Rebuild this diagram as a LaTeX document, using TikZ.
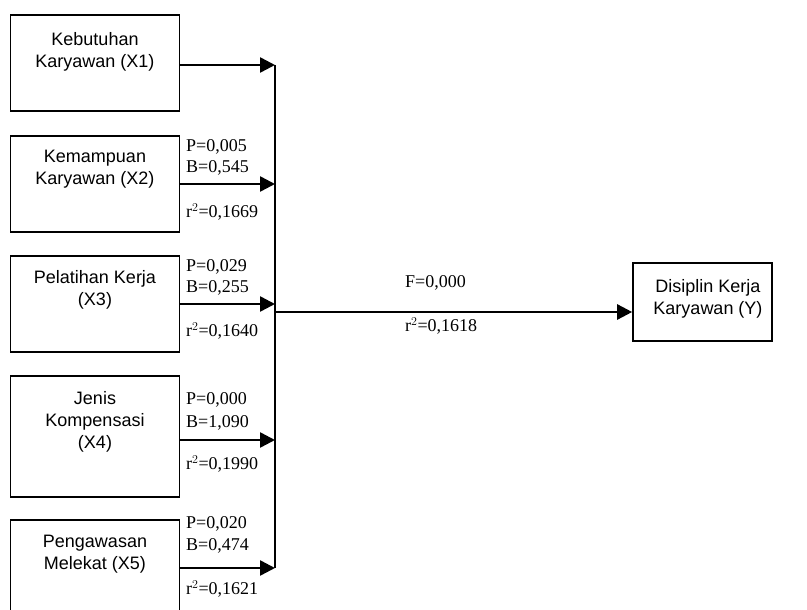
\documentclass[tikz,border=0pt]{standalone}
\usepackage{fontspec}
\setmainfont{Liberation Serif}
\newfontfamily\arialf{Liberation Sans}
\usetikzlibrary{arrows.meta}
\begin{document}
\begin{tikzpicture}[x=1pt,y=-1pt,
  boxst/.style={draw,line width=1.6pt,rectangle,inner sep=0pt},
  btext/.style={font=\arialf\fontsize{18}{22}\selectfont,align=center,inner sep=0pt},
  lab/.style={font=\fontsize{18}{21}\selectfont,anchor=west,inner sep=0pt},
  arr/.style={line width=2.5pt,-{Triangle[length=15pt,width=15pt]}},
  bus/.style={line width=1.8pt}]
\useasboundingbox (0,0) rectangle (807,610);
\clip (0,0) rectangle (807,610);
% boxes
\node[boxst,minimum width=169pt,minimum height=96pt] (b1) at (95,63) {};
\node[boxst,minimum width=169pt,minimum height=96pt] (b2) at (95,184) {};
\node[boxst,minimum width=169pt,minimum height=96pt] (b3) at (95,304) {};
\node[boxst,minimum width=169pt,minimum height=121pt] (b4) at (95,436.5) {};
\node[boxst,minimum width=169pt,minimum height=110pt] (b5) at (95,575) {};
\node[boxst,minimum width=139pt,minimum height=78pt] (y) at (702.5,302) {};
% box texts
\node[btext] (t1) at (95,52) {Kebutuhan\\Karyawan (X1)};
\node[btext] (t2) at (95,169.5) {Kemampuan\\Karyawan (X2)};
\node[btext] (t3) at (95,290) {Pelatihan Kerja\\(X3)};
\node[btext] (t4) at (95,421.5) {Jenis\\Kompensasi\\(X4)};
\node[btext] (t5) at (95,554.5) {Pengawasan\\Melekat (X5)};
\node[btext] (ty) at (708,299) {Disiplin Kerja\\Karyawan (Y)};
% junctions on the bus
\coordinate (j1) at (275,65);
\coordinate (j2) at (275,184);
\coordinate (j3) at (275,304);
\coordinate (j4) at (275,440);
\coordinate (j5) at (275,568);
\coordinate (jm) at (275,312);
\draw[bus] (j1) -- (j5);
\draw[arr] (b1.east |- j1) -- (j1);
\draw[arr] (b2.east |- j2) -- (j2);
\draw[arr] (b3.east |- j3) -- (j3);
\draw[arr] (b4.east |- j4) -- (j4);
\draw[arr] (b5.east |- j5) -- (j5);
\draw[arr] (jm) -- (y.west |- jm);
% labels
\node[lab] (p2) at (186,147) {P=0,005};
\node[lab] (c2) at (186,168) {B=0,545};
\node[lab] (r2) at (186,212) {r$^2$=0,1669};
\node[lab] (p3) at (186,267) {P=0,029};
\node[lab] (c3) at (186,288) {B=0,255};
\node[lab] (r3) at (186,331) {r$^2$=0,1640};
\node[lab] (p4) at (186,400) {P=0,000};
\node[lab] (c4) at (186,423) {B=1,090};
\node[lab] (r4) at (186,464) {r$^2$=0,1990};
\node[lab] (p5) at (186,524) {P=0,020};
\node[lab] (c5) at (186,546) {B=0,474};
\node[lab] (r5) at (186,589) {r$^2$=0,1621};
\node[lab] (fm) at (405,283) {F=0,000};
\node[lab] (rm) at (405,326) {r$^2$=0,1618};
\end{tikzpicture}
\end{document}
